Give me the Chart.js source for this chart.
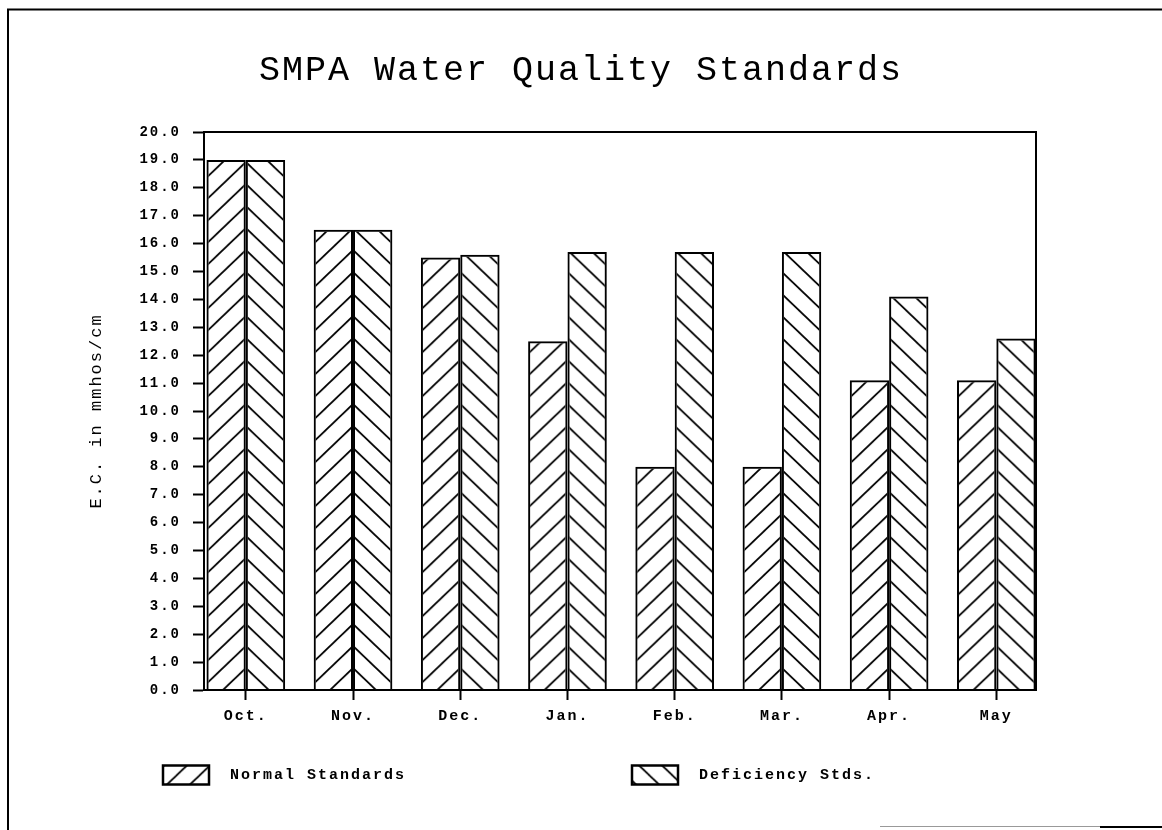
<!DOCTYPE html>
<html>
<head>
<meta charset="utf-8">
<script src="https://cdn.jsdelivr.net/npm/chart.js@4.4.0/dist/chart.umd.min.js"></script>
<style>
  html, body { margin: 0; padding: 0; background: #fff; overflow: hidden; }
  #wrap { position: relative; width: 1162px; height: 830px; }
  canvas { display: block; }
</style>
</head>
<body>
<div id="wrap"><canvas id="c" width="1162" height="830"></canvas></div>
<script>
// ---- data ----
const months = ['Oct.', 'Nov.', 'Dec.', 'Jan.', 'Feb.', 'Mar.', 'Apr.', 'May'];
const normalStandards = [19.0, 16.5, 15.5, 12.5, 8.0, 8.0, 11.1, 11.1];
const deficiencyStds = [19.0, 16.5, 15.6, 15.7, 15.7, 15.7, 14.1, 12.6];
const yTicks = [0, 1, 2, 3, 4, 5, 6, 7, 8, 9, 10, 11, 12, 13, 14, 15, 16, 17, 18, 19, 20];
const seriesNames = ['Normal Standards', 'Deficiency Stds.'];
const chartTitle = 'SMPA Water Quality Standards';
const yAxisTitle = 'E.C. in mmhos/cm';

// ---- hatch tiles ----
const tileW = 23, tileH = 22;
function makeTile(dir) {
  const c = document.createElement('canvas');
  c.width = tileW; c.height = tileH;
  const g = c.getContext('2d');
  g.strokeStyle = '#000';
  g.lineWidth = 1.8;
  const s = dir === '/' ? -tileH / tileW : tileH / tileW;
  g.beginPath();
  for (let k = -2; k <= 3; k++) {
    const x0 = -3, x1 = tileW + 3;
    g.moveTo(x0, k * tileH + s * x0);
    g.lineTo(x1, k * tileH + s * x1);
  }
  g.stroke();
  return c;
}
const tileSlash = makeTile('/');
const tileBack = makeTile('\\');
const tiles = [tileSlash, tileBack];

function hatch(tile) {
  return (ctx) => {
    if (ctx.type !== 'data') return '#fff';
    const ch = ctx.chart, xs = ch.scales.x, ys = ch.scales.y;
    if (!xs || !ys || !ch.chartArea) return '#fff';
    const cx = xs.getPixelForValue(ctx.dataIndex);
    const base = ys.getPixelForValue(0);
    if (!isFinite(cx) || !isFinite(base)) return '#fff';
    const p = ch.ctx.createPattern(tile, 'repeat');
    p.setTransform(new DOMMatrix([1, 0, 0, 1, cx, base]));
    return p;
  };
}

// ---- plugins ----
const spacingPlugin = {
  id: 'spacing',
  beforeLayout(chart) { chart.ctx.letterSpacing = '2px'; },
  beforeDraw(chart) { chart.ctx.letterSpacing = '2px'; }
};

const pageFramePlugin = {
  id: 'pageFrame',
  beforeDraw(chart) {
    const { ctx, width, height } = chart;
    ctx.save();
    ctx.fillStyle = '#fff';
    ctx.fillRect(0, 0, width, height);
    ctx.strokeStyle = '#000';
    ctx.lineWidth = 2;
    ctx.beginPath();
    ctx.moveTo(7, 9.5); ctx.lineTo(width, 9.5);
    ctx.moveTo(8, 9); ctx.lineTo(8, height);
    ctx.stroke();
    ctx.strokeStyle = '#999';
    ctx.lineWidth = 1;
    ctx.beginPath();
    ctx.moveTo(880, height - 3.5); ctx.lineTo(1100, height - 3.5);
    ctx.stroke();
    ctx.strokeStyle = '#000';
    ctx.lineWidth = 2;
    ctx.beginPath();
    ctx.moveTo(1100, height - 3); ctx.lineTo(width, height - 3);
    ctx.stroke();
    ctx.restore();
  }
};

const plotFramePlugin = {
  id: 'plotFrame',
  afterDatasetsDraw(chart) {
    const { ctx, chartArea: a } = chart;
    ctx.save();
    ctx.strokeStyle = '#000';
    ctx.lineWidth = 2;
    ctx.strokeRect(a.left, a.top, a.right - a.left, a.bottom - a.top);
    ctx.restore();
  }
};

const hatchLegendPlugin = {
  id: 'hatchLegend',
  afterDraw(chart) {
    const { ctx, chartArea: a } = chart;
    const cy = a.bottom + 85;
    const starts = [a.left - 41, a.left + 428];
    ctx.save();
    ctx.letterSpacing = '2px';
    chart.data.datasets.forEach((d, i) => {
      const bx = starts[i], bw = 46, bh = 19, by = cy - bh / 2;
      ctx.fillStyle = '#fff';
      ctx.fillRect(bx, by, bw, bh);
      const p = ctx.createPattern(tiles[i], 'repeat');
      p.setTransform(new DOMMatrix([1, 0, 0, 1, bx + 4, by + bh]));
      ctx.fillStyle = p;
      ctx.fillRect(bx, by, bw, bh);
      ctx.lineWidth = 2.5;
      ctx.strokeStyle = '#000';
      ctx.strokeRect(bx, by, bw, bh);
      ctx.fillStyle = '#000';
      ctx.font = 'bold 15px "Liberation Mono"';
      ctx.textBaseline = 'middle';
      ctx.textAlign = 'left';
      ctx.fillText(d.label, bx + bw + 21, cy);
    });
    ctx.restore();
  }
};

// ---- chart ----
const tickFont = { family: 'Liberation Mono', size: 14, weight: 'bold' };

new Chart(document.getElementById('c'), {
  type: 'bar',
  data: {
    datasets: [
      {
        label: seriesNames[0],
        data: normalStandards.map((v, i) => ({ x: i, y: v })),
        backgroundColor: hatch(tileSlash),
        borderColor: '#000',
        borderWidth: 2,
        categoryPercentage: 0.734,
        barPercentage: 1
      },
      {
        label: seriesNames[1],
        data: deficiencyStds.map((v, i) => ({ x: i, y: v })),
        backgroundColor: hatch(tileBack),
        borderColor: '#000',
        borderWidth: 2,
        categoryPercentage: 0.734,
        barPercentage: 1
      }
    ]
  },
  options: {
    responsive: false,
    animation: false,
    events: [],
    layout: { padding: 0 },
    plugins: {
      legend: { display: false },
      tooltip: { enabled: false },
      title: {
        display: true,
        text: chartTitle,
        color: '#000',
        font: { family: 'Liberation Mono', size: 35, weight: 'normal' },
        padding: { top: 50, bottom: 40 }
      }
    },
    scales: {
      x: {
        type: 'linear',
        min: -0.39,
        max: 7.37,
        offset: false,
        afterBuildTicks: (axis) => { axis.ticks = months.map((m, i) => ({ value: i })); },
        afterFit: (axis) => { axis.height = 140; },
        grid: { drawOnChartArea: false, drawTicks: true, tickLength: 10, tickWidth: 2, tickColor: '#000', offset: false },
        border: { display: true, color: '#000', width: 2 },
        ticks: {
          autoSkip: false,
          maxRotation: 0,
          padding: 7,
          color: '#000',
          font: { family: 'Liberation Mono', size: 15, weight: 'bold' },
          callback: (v) => months[v] ?? ''
        }
      },
      y: {
        type: 'linear',
        min: 0,
        max: 20,
        afterBuildTicks: (axis) => { axis.ticks = yTicks.map((v) => ({ value: v })); },
        afterFit: (axis) => { axis.width = 204; },
        grid: { drawOnChartArea: false, drawTicks: true, tickLength: 11, tickWidth: 2, tickColor: '#000' },
        border: { display: true, color: '#000', width: 2 },
        ticks: {
          padding: 12,
          color: '#000',
          font: tickFont,
          callback: (v) => Number(v).toFixed(1)
        },
        title: {
          display: true,
          text: yAxisTitle,
          color: '#000',
          font: { family: 'Liberation Mono', size: 17, weight: 'normal' },
          padding: { top: 86, bottom: 0 }
        }
      },
      yRight: {
        type: 'linear',
        position: 'right',
        display: true,
        grid: { display: false, drawTicks: false },
        border: { display: false },
        ticks: { display: false },
        afterFit: (axis) => { axis.width = 126; }
      }
    }
  },
  plugins: [spacingPlugin, pageFramePlugin, plotFramePlugin, hatchLegendPlugin]
});
</script>
</body>
</html>
